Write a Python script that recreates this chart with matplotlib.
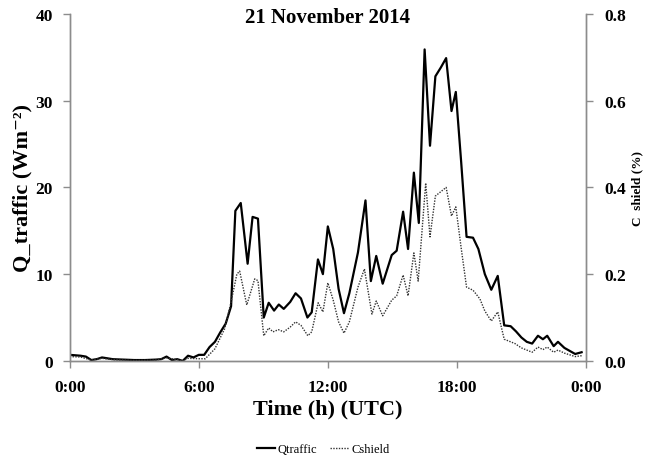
import matplotlib
matplotlib.use("Agg")
import matplotlib.pyplot as plt
from matplotlib.ticker import FixedLocator, FuncFormatter

plt.rcParams['font.family'] = ['Liberation Serif', 'DejaVu Serif']

# Time in hours (UTC)
q_hours = [0.0, 0.5, 0.75, 1.0, 1.25, 1.5, 1.75, 2.0, 2.5, 3.0, 3.5, 4.0, 4.25, 4.5, 4.75,
           5.0, 5.25, 5.5, 5.75, 6.0, 6.25, 6.5, 6.75, 7.0, 7.25, 7.5, 7.7, 7.95, 8.27,
           8.5, 8.75, 9.02, 9.25, 9.5, 9.72, 9.95, 10.25, 10.5, 10.75, 11.05, 11.25, 11.54,
           11.77, 12.0, 12.25, 12.5, 12.75, 13.0, 13.4, 13.75, 14.0, 14.25, 14.55, 14.97,
           15.2, 15.5, 15.73, 16.0, 16.23, 16.5, 16.75, 17.0, 17.25, 17.5, 17.75, 17.95,
           18.2, 18.45, 18.75, 19.0, 19.3, 19.6, 19.9, 20.2, 20.5, 20.75, 21.0, 21.25,
           21.5, 21.77, 22.0, 22.2, 22.5, 22.7, 23.0, 23.5, 23.8]
q_traffic = [0.7, 0.6, 0.5, 0.1, 0.2, 0.4, 0.3, 0.2, 0.15, 0.1, 0.1, 0.15, 0.2, 0.5, 0.1,
             0.2, 0.0, 0.6, 0.4, 0.7, 0.7, 1.6, 2.2, 3.3, 4.3, 6.3, 17.3, 18.2, 11.2,
             16.6, 16.4, 5.0, 6.7, 5.8, 6.5, 6.0, 6.8, 7.8, 7.2, 5.0, 5.6, 11.7,
             10.0, 15.5, 12.9, 8.3, 5.5, 7.8, 12.5, 18.5, 9.2, 12.1, 8.9, 12.2,
             12.7, 17.2, 12.9, 21.7, 15.9, 35.9, 24.8, 32.8, 33.8, 34.9, 28.8, 31.0,
             22.9, 14.3, 14.2, 12.9, 10.0, 8.2, 9.8, 4.1, 4.0, 3.4, 2.7, 2.2,
             2.0, 2.9, 2.5, 2.9, 1.7, 2.2, 1.5, 0.8, 1.0]

c_hours = [0.0, 0.5, 1.0, 1.5, 2.0, 3.0, 4.0, 4.5, 5.0, 5.25, 5.5, 6.0, 6.3, 6.75, 7.2,
           7.5, 7.77, 7.9, 8.23, 8.6, 8.75, 9.02, 9.25, 9.45, 9.7, 9.95, 10.25, 10.5,
           10.75, 11.07, 11.25, 11.55, 11.77, 12.0, 12.25, 12.5, 12.75, 13.0, 13.4, 13.7,
           14.05, 14.25, 14.55, 14.97, 15.2, 15.5, 15.73, 16.0, 16.2, 16.55, 16.75, 17.0,
           17.25, 17.5, 17.75, 17.95, 18.2, 18.45, 18.75, 19.07, 19.3, 19.6, 19.9, 20.2,
           20.7, 21.0, 21.5, 21.77, 22.0, 22.2, 22.5, 22.7, 23.0, 23.5, 23.8]
c_shield = [0.010, 0.009, 0.002, 0.006, 0.003, 0.001, 0.002, 0.007, 0.003, 0.000, 0.006,
            0.005, 0.005, 0.028, 0.074, 0.136, 0.200, 0.207, 0.129, 0.189, 0.185, 0.058,
            0.076, 0.067, 0.072, 0.067, 0.078, 0.090, 0.082, 0.058, 0.067, 0.134, 0.113,
            0.180, 0.140, 0.090, 0.064, 0.090, 0.170, 0.212, 0.108, 0.138, 0.104, 0.140,
            0.150, 0.198, 0.150, 0.249, 0.184, 0.410, 0.286, 0.380, 0.390, 0.400, 0.334,
            0.355, 0.260, 0.170, 0.163, 0.143, 0.115, 0.092, 0.113, 0.050, 0.040, 0.030,
            0.020, 0.032, 0.026, 0.032, 0.020, 0.025, 0.018, 0.010, 0.012]

x_ticks = [0, 6, 12, 18, 24]
x_tick_labels = ["0:00", "6:00", "12:00", "18:00", "0:00"]
left_ticks = [0, 10, 20, 30, 40]
right_ticks = [0.0, 0.2, 0.4, 0.6, 0.8]

fig = plt.figure(figsize=(6.46, 4.64), dpi=100)
ax = fig.add_axes([0.108, 0.220, 0.799, 0.748])
ax2 = ax.twinx()

spine_col = '#8c8c8c'
l1, = ax.plot(q_hours, q_traffic, color='black', lw=1.6, label='Qtraffic')
l2, = ax2.plot(c_hours, c_shield, color='#333333', lw=1.0, ls=(0, (1, 1)), label='Cshield')

ax.set_xlim(0, 24)
ax.set_ylim(0, 40)
ax2.set_ylim(0, 0.8)

ax.xaxis.set_major_locator(FixedLocator(x_ticks))
ax.set_xticklabels(x_tick_labels)
ax.set_yticks(left_ticks)
ax2.set_yticks(right_ticks)
ax2.yaxis.set_major_formatter(FuncFormatter(lambda v, p: f"{v:.1f}"))

for a in (ax, ax2):
    a.spines['top'].set_visible(False)
    for s in ('left', 'right', 'bottom'):
        a.spines[s].set_color(spine_col)
        a.spines[s].set_linewidth(1.0)
    a.tick_params(colors=spine_col, length=5, width=1.0, labelcolor='black',
                  labelsize=12.5)
    for lab in a.get_xticklabels() + a.get_yticklabels():
        lab.set_fontweight('bold')
ax.tick_params(axis='x', pad=8)
ax.tick_params(axis='y', pad=7)
ax2.tick_params(axis='y', pad=8)

ax.set_xlabel('Time (h) (UTC)', fontsize=16, fontweight='bold')
ax.xaxis.set_label_coords(0.5, -0.108)
ax.set_ylabel('Q_traffic (Wm\u207b\u00b2)', fontsize=16, fontweight='bold')
ax.yaxis.set_label_coords(-0.072, 0.5)
ax2.set_ylabel('C  shield (%)', fontsize=9.5, fontweight='bold')
ax2.yaxis.set_label_coords(1.088, 0.5)

ax.text(0.5, 0.99, '21 November 2014', transform=ax.transAxes, ha='center', va='center',
        fontsize=15, fontweight='bold')

fig.legend(handles=[l1, l2], loc='center', bbox_to_anchor=(0.5, 0.03), ncol=2,
           frameon=False, fontsize=9, handlelength=1.5, handletextpad=0.2,
           columnspacing=1.0)

fig.savefig('out.png', dpi=100)
